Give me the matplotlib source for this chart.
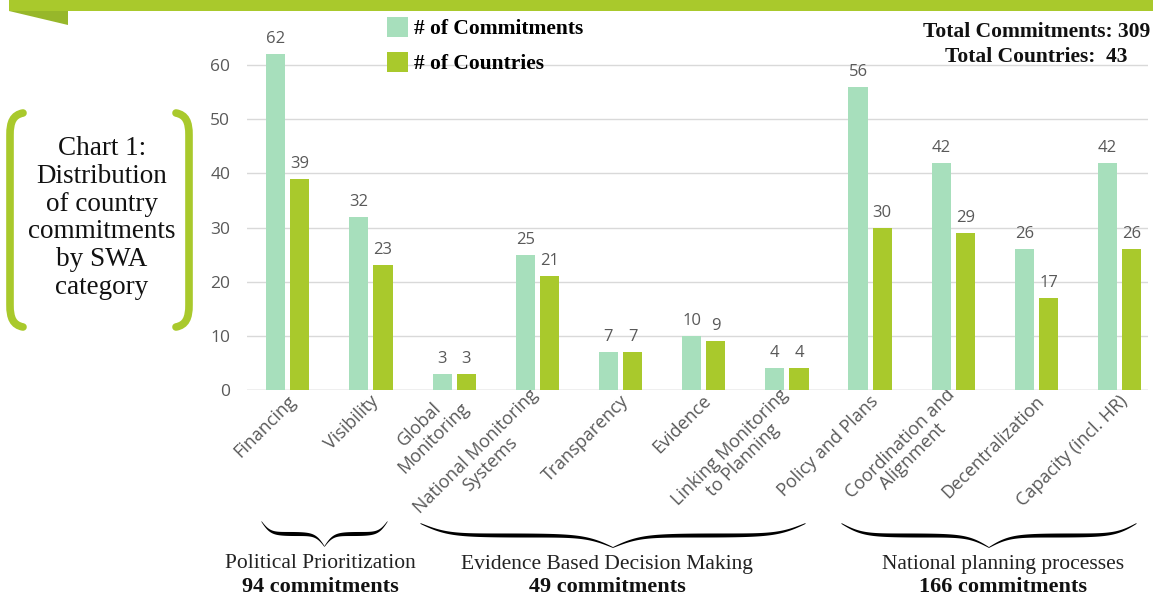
import numpy as np
import matplotlib.pyplot as plt
import matplotlib.transforms as mtransforms
from matplotlib.path import Path
from matplotlib.patches import PathPatch, Polygon, Rectangle

categories = ["Financing", "Visibility", "Global\nMonitoring", "National Monitoring\nSystems",
              "Transparency", "Evidence", "Linking Monitoring\nto Planning", "Policy and Plans",
              "Coordination and\nAlignment", "Decentralization", "Capacity (incl. HR)"]
commitments = [62, 32, 3, 25, 7, 10, 4, 56, 42, 26, 42]
countries = [39, 23, 3, 21, 7, 9, 4, 30, 29, 17, 26]
yticks = [0, 10, 20, 30, 40, 50, 60]

groups = ["Political Prioritization", "Evidence Based Decision Making", "National planning processes"]
group_totals = [94, 49, 166]
total_commitments = 309
total_countries = 43

light = "#a7dfbc"
dark = "#a9c92c"
grey = "#595959"
serif = ["Liberation Serif", "DejaVu Serif"]
sans = ["Open Sans", "DejaVu Sans"]

fig = plt.figure(figsize=(11.53, 5.96), dpi=100)

# overlay in pixel coordinates for the decorations
deco = fig.add_axes([0, 0, 1, 1])
deco.set_xlim(0, 1153)
deco.set_ylim(596, 0)
deco.axis("off")

deco.add_patch(Rectangle((9, 0), 1144, 11, color=dark, lw=0))
deco.add_patch(Polygon([(9, 11), (68, 11), (68, 25)], closed=True, color="#97b72a", lw=0))


def bracket(cx, sign):
    # rounded square bracket, sign=1 opens right, -1 opens left
    e = cx + sign * 13
    verts = [(e, 113), (cx + sign * 3, 115), (cx, 122), (cx, 135),
             (cx, 305), (cx, 318), (cx + sign * 3, 325), (e, 327)]
    codes = [Path.MOVETO, Path.CURVE4, Path.CURVE4, Path.CURVE4,
             Path.LINETO, Path.CURVE4, Path.CURVE4, Path.CURVE4]
    deco.add_patch(PathPatch(Path(verts, codes), fill=False, ec=dark, lw=5.5, capstyle="round"))


bracket(10, 1)
bracket(189, -1)

deco.text(102, 218, "Chart 1:\nDistribution\nof country\ncommitments\nby SWA\ncategory",
          ha="center", va="center", fontsize=19.5, family=serif, linespacing=1.15, color="#111111")


def brace(x0, x1, ytop, h):
    xm = (x0 + x1) / 2
    u = np.linspace(0, 1, 300)
    b = 14
    s = 1 / (1 + np.exp(-b * u)) + 1 / (1 + np.exp(-b * (u - 1))) - 0.5
    t = 0.8 + 3.2 * np.sin(np.pi * u) ** 0.7
    xl = x0 + u * (xm - x0)
    xr = x1 - u * (x1 - xm)
    yc = ytop + h * s
    deco.fill_between(xl, yc - t / 2, yc + t / 2, color="black", lw=0)
    deco.fill_between(xr[::-1], (yc - t / 2)[::-1], (yc + t / 2)[::-1], color="black", lw=0)


brace(261, 387, 521, 25)
brace(420, 805, 523, 24)
brace(841, 1136, 523, 24)

group_x = [320, 607, 1003]
for gx, name, tot in zip(group_x, groups, group_totals):
    deco.text(gx, 564, name, ha="center", va="center", fontsize=15.5, family=serif, color="#222222")
    deco.text(gx, 587, f"{tot} commitments", ha="center", va="center", fontsize=16,
              family=serif, weight="bold", color="#111111")

deco.text(1150, 32, f"Total Commitments: {total_commitments}", ha="right", va="center",
          fontsize=15.5, family=serif, weight="bold", color="#111111")
deco.text(1036, 57, f"Total Countries:  {total_countries}", ha="center", va="center",
          fontsize=15.5, family=serif, weight="bold", color="#111111")

# main bar chart
ax = fig.add_axes([247 / 1153, 206 / 596, 901 / 1153, 357.5 / 596])
ax.set_facecolor("none")
x = np.arange(len(categories))
w = 0.23
b1 = ax.bar(x - 0.145, commitments, w, color=light, label="# of Commitments", zorder=3)
b2 = ax.bar(x + 0.145, countries, w, color=dark, label="# of Countries", zorder=3)
for bars in (b1, b2):
    ax.bar_label(bars, padding=5, fontsize=12, color=grey, family=sans)

ax.set_xlim(-0.49, 10.34)
ax.set_ylim(0, 66)
ax.set_yticks(yticks)
ax.grid(axis="y", color="#d9d9d9", lw=1, zorder=0)
for sp in ax.spines.values():
    sp.set_visible(False)
ax.axhline(0, color="#d0d0d0", lw=1, zorder=2)
ax.tick_params(axis="y", length=0, pad=12, labelsize=12.5, labelcolor=grey)
ax.tick_params(axis="x", length=0, pad=6)
ax.set_xticks(x)
ax.set_xticklabels(categories, rotation=45, ha="right", va="center", rotation_mode="anchor",
                   multialignment="center", fontsize=13, color=grey, family=sans)
shift = mtransforms.ScaledTranslation(5 / 100, 0, fig.dpi_scale_trans)
for lab in ax.get_xticklabels():
    lab.set_linespacing(1.05)
    lab.set_transform(lab.get_transform() + shift)
for lab in ax.get_yticklabels():
    lab.set_family(sans)

leg = ax.legend(loc="upper left", bbox_to_anchor=(368 / 1153, 1 + 2 / 596),
                bbox_transform=fig.transFigure, frameon=False, handlelength=0.95,
                handleheight=1.0, handletextpad=0.3, labelspacing=0.6,
                prop={"family": serif, "weight": "bold", "size": 15.5})

fig.savefig("out.png", dpi=100)
